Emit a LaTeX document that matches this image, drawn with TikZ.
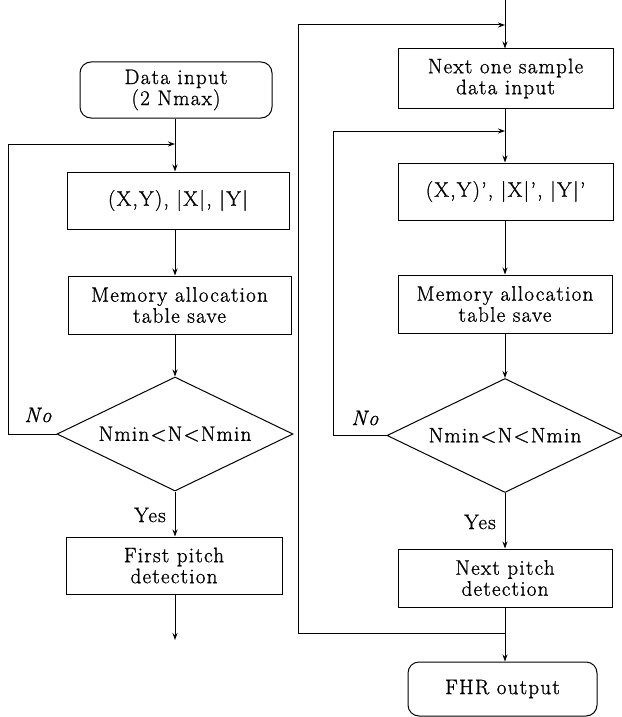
\documentclass[tikz,border=0pt]{standalone}
\usepackage{fontspec}
\setmainfont{Latin Modern Roman}[LetterSpace=6,FakeBold=1]
\usetikzlibrary{shapes.geometric,arrows.meta}
\begin{document}
\begin{tikzpicture}[x=1pt,y=-1pt,line width=1pt,
  txt/.style={font=\fontsize{21}{21}\selectfont},
  box/.style={txt,draw,rectangle,align=center,inner sep=0pt,minimum height=57pt},
  term/.style={box,rounded corners=11pt},
  dec/.style={txt,draw,diamond,aspect=2.1,inner sep=0pt,minimum width=236pt,minimum height=114pt},
  lbl/.style={font=\fontsize{21}{21}\selectfont,inner sep=0pt},
  nolbl/.style={font=\fontsize{21}{21}\selectfont\itshape,inner sep=0pt},
  arr/.style={-{Stealth[length=7pt,width=5pt]}}]
\useasboundingbox (0,0) rectangle (621,717);

% first pass: fill the table
\node[term,minimum width=192pt,minimum height=56pt] (din) at (176,90) {Data input\\(2 Nmax)};
\node[box,minimum width=222pt] (xy1) at (178,200.5) {(X,Y), |X|, |Y|};
\node[box,minimum width=223pt,minimum height=58pt] (mem1) at (179.5,305) {Memory allocation\\table save};
\node[dec] (dec1) at (175,434) {Nmin<N<Nmin};
\node[box,minimum width=216pt] (fpd) at (174,565.5) {First pitch\\detection};
\node[nolbl] (no1) at (38,415) {No};
\node[lbl] (yes1) at (150,515) {Yes};
\coordinate (j1) at (175,144);
\coordinate (lx1) at (8,144);
\coordinate (out1) at (175,640);

\draw (din.south -| dec1) -- (j1);
\draw[arr] (j1) -- (xy1.north -| dec1);
\draw[arr] (xy1.south -| dec1) -- (mem1.north -| dec1);
\draw[arr] (mem1.south -| dec1) -- (dec1.north);
\draw[arr] (dec1.south) -- (fpd.north -| dec1);
\draw[arr] (fpd.south -| dec1) -- (out1);
\draw[arr] (dec1.west) -| (lx1) |- (j1);

% second pass: one new sample at a time
\coordinate (top2) at (505,0);
\node[box,minimum width=215pt,minimum height=59pt] (nsd) at (505.5,78.5) {Next one sample\\data input};
\node[box,minimum width=215pt] (xy2) at (505.5,191.5) {(X,Y)’, |X|’, |Y|’};
\node[box,minimum width=214pt,minimum height=58pt] (mem2) at (505,304) {Memory allocation\\table save};
\node[dec] (dec2) at (505,435.5) {Nmin<N<Nmin};
\node[box,minimum width=214pt,minimum height=58pt] (npd) at (505,578) {Next pitch\\detection};
\node[term,minimum width=189pt,minimum height=54pt] (fhr) at (502.5,689) {FHR output};
\node[nolbl] (no2) at (365,418) {No};
\node[lbl] (yes2) at (480,522) {Yes};
\coordinate (j2) at (505,25);
\coordinate (j3) at (505,131);
\coordinate (j4) at (505,633);
\coordinate (ox) at (298,25);
\coordinate (ix) at (333,131);

\draw (top2) -- (j2);
\draw[arr] (j2) -- (nsd.north -| dec2);
\draw (nsd.south -| dec2) -- (j3);
\draw[arr] (j3) -- (xy2.north -| dec2);
\draw[arr] (xy2.south -| dec2) -- (mem2.north -| dec2);
\draw[arr] (mem2.south -| dec2) -- (dec2.north);
\draw[arr] (dec2.south) -- (npd.north -| dec2);
\draw[arr] (npd.south -| dec2) -- (fhr.north -| dec2);
\draw[arr] (dec2.west) -| (ix) |- (j3);
\draw[arr] (j4) -| (ox) |- (j2);
\end{tikzpicture}
\end{document}
